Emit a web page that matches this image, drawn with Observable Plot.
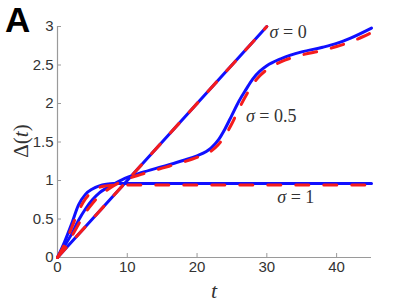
<!DOCTYPE html>
<html><head><meta charset="utf-8">
<script src="https://cdn.jsdelivr.net/npm/d3@7"></script>
<script src="https://cdn.jsdelivr.net/npm/@observablehq/plot@0.6"></script>
<style>body{margin:0;background:#fff}</style>
</head><body><div id="chart"></div>
<script>
const tTicks = [0, 10, 20, 30, 40];
const yTicks = [0, 0.5, 1, 1.5, 2, 2.5, 3];
// sigma = 0
const tS0 = [0, 30];
const s0Blue = [0, 3];
const s0Red = [0, 3];
// sigma = 1
const tS1 = [0, 1, 2, 3, 4, 5, 6, 7, 8, 10, 15, 20, 30, 45];
const s1Blue = [0, 0.2, 0.43, 0.68, 0.82, 0.89, 0.93, 0.95, 0.96, 0.961, 0.961, 0.961, 0.961, 0.961];
const s1Red  = [0, 0.17, 0.38, 0.6, 0.76, 0.86, 0.91, 0.93, 0.94, 0.943, 0.943, 0.943, 0.943, 0.943];
// sigma = 0.5
const tS5 = [0, 1, 2, 3, 4, 5, 6, 7, 8, 10, 12, 15, 18, 20, 22, 23, 24, 25, 26, 27, 28, 29, 30, 32, 35, 38, 40, 42, 45];
const s5Blue = [0, 0.15, 0.3, 0.48, 0.63, 0.75, 0.84, 0.9, 0.95, 1.04, 1.1, 1.18, 1.26, 1.32, 1.42, 1.52, 1.67, 1.85, 2.03, 2.18, 2.32, 2.42, 2.49, 2.58, 2.67, 2.73, 2.78, 2.85, 2.98];
const s5Red  = [0, 0.13, 0.27, 0.43, 0.58, 0.7, 0.8, 0.87, 0.93, 1.02, 1.08, 1.16, 1.24, 1.3, 1.38, 1.46, 1.58, 1.74, 1.93, 2.1, 2.25, 2.36, 2.44, 2.54, 2.63, 2.69, 2.74, 2.8, 2.92];
const labels = [
  {t: 30.4, v: 2.92, text: "σ = 0"},
  {t: 27.0, v: 1.83, text: "σ = 0.5"},
  {t: 31.5, v: 0.78, text: "σ = 1"}
];

function rows(ts, vs, s) { return ts.map((t, i) => ({t, v: vs[i], s})); }
const blue = [...rows(tS0, s0Blue, "0"), ...rows(tS1, s1Blue, "1"), ...rows(tS5, s5Blue, "0.5")];
const red = [...rows(tS0, s0Red, "0"), ...rows(tS1, s1Red, "1"), ...rows(tS5, s5Red, "0.5")];

const BLUE = "#1010ff", RED = "#f51c1c", AX = "#9a9a9a";
const plot = Plot.plot({
  width: 409, height: 307,
  marginLeft: 57, marginRight: 38, marginTop: 26, marginBottom: 50,
  style: {fontFamily: "'Liberation Sans', Arial, sans-serif", fontSize: "15px", color: "#333", background: "#fff"},
  x: {domain: [0, 45], ticks: tTicks, label: null},
  y: {domain: [0, 3], ticks: yTicks, label: null},
  marks: [
    Plot.ruleX([0], {stroke: AX, strokeWidth: 1.2}),
    Plot.ruleY([0], {stroke: AX, strokeWidth: 1.2}),
    Plot.axisX({ticks: tTicks, tickSize: -4, stroke: AX, tickPadding: 8, fill: "#333", fontSize: 15, tickFormat: d => String(d)}),
    Plot.axisY({ticks: yTicks, tickSize: -4, stroke: AX, tickPadding: 8, fill: "#333", fontSize: 15, tickFormat: d => String(d)}),
    Plot.line(blue, {x: "t", y: "v", z: "s", stroke: BLUE, strokeWidth: 3, curve: "monotone-x"}),
    Plot.line(red, {x: "t", y: "v", z: "s", stroke: RED, strokeWidth: 3, strokeDasharray: "13,15", curve: "monotone-x"}),
    Plot.text(labels, {x: "t", y: "v", text: "text", textAnchor: "start", fontFamily: "'Liberation Serif', 'DejaVu Serif', serif", fontSize: 18, fill: "#333"})
  ]
});
document.getElementById("chart").append(plot);
const svg = d3.select(plot);
// italic sigma
svg.selectAll("text").each(function() {
  const el = d3.select(this);
  const txt = el.text();
  if (txt.startsWith("σ")) {
    const rest = txt.slice(1);
    const tsp = el.select("tspan");
    if (tsp.empty()) {
      el.text(null);
      el.append("tspan").attr("font-style", "italic").text("σ");
      el.append("tspan").text(rest);
    }
  }
});
// y axis label
const yl = svg.append("text").attr("transform", "translate(28,141) rotate(-90)")
  .attr("text-anchor", "middle").attr("font-family", "'Liberation Serif', 'DejaVu Serif', serif")
  .attr("font-size", 21).attr("fill", "#333");
yl.append("tspan").text("Δ(");
yl.append("tspan").attr("font-style", "italic").text("t");
yl.append("tspan").text(")");
// x axis label
svg.append("text").attr("x", 214).attr("y", 298).attr("text-anchor", "middle")
  .attr("font-family", "'Liberation Serif', 'DejaVu Serif', serif").attr("font-style", "italic")
  .attr("font-size", 22).attr("fill", "#333").text("t");
// panel letter
svg.append("text").attr("x", 5).attr("y", 32).attr("text-anchor", "start")
  .attr("font-family", "'Liberation Sans', Arial, sans-serif").attr("font-weight", "bold")
  .attr("font-size", 35).attr("fill", "#000").text("A");
</script></body></html>
